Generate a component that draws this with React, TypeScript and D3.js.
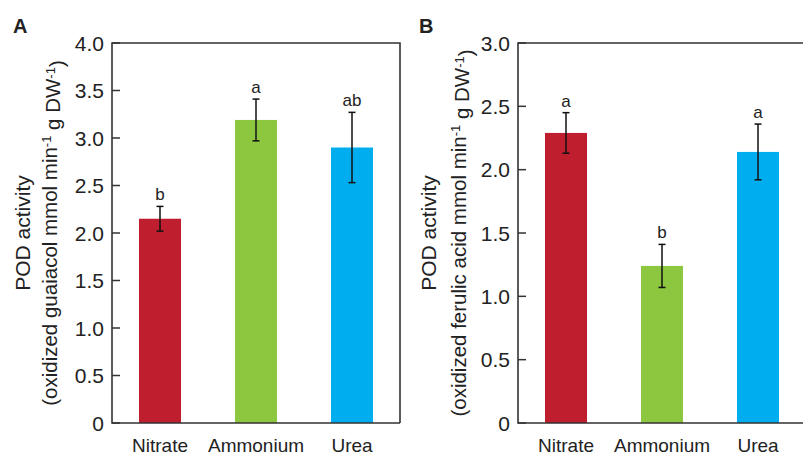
import React from 'react';
import { scaleBand, scaleLinear } from 'd3';

const width = 803;
const height = 456;

const treatments = ['Nitrate', 'Ammonium', 'Urea'];
const colors = ['#BE1E2D', '#8DC63F', '#00AEEF'];

// panel A: guaiacol
const guaiacolMean = [2.15, 3.19, 2.9];
const guaiacolErr = [0.13, 0.22, 0.37];
const guaiacolLetters = ['b', 'a', 'ab'];
const guaiacolTicks = [0, 0.5, 1.0, 1.5, 2.0, 2.5, 3.0, 3.5, 4.0];

// panel B: ferulic acid
const ferulicMean = [2.29, 1.24, 2.14];
const ferulicErr = [0.16, 0.17, 0.22];
const ferulicLetters = ['a', 'b', 'a'];
const ferulicTicks = [0, 0.5, 1.0, 1.5, 2.0, 2.5, 3.0];

const font = 'Liberation Sans, Arial, sans-serif';
const textColor = '#222';

const fmt = (v: number) => (v === 0 ? '0' : v.toFixed(1));

type PanelProps = {
  label: string;
  left: number;
  right: number;
  boxRight: number;
  yMax: number;
  means: number[];
  errs: number[];
  letters: string[];
  ticks: number[];
  title2: string;
  titleX1: number;
  titleX2: number;
};

const Panel = ({ label, left, right, boxRight, yMax, means, errs, letters, ticks, title2, titleX1, titleX2 }: PanelProps) => {
  const top = 43;
  const bottom = 423;
  const x = scaleBand().domain(treatments).range([left, right]).paddingInner(0.5625).paddingOuter(0.28125);
  const y = scaleLinear().domain([0, yMax]).range([bottom, top]);
  const midY = (top + bottom) / 2;

  return (
    <g>
      <text x={left - 99} y={33} fontFamily={font} fontWeight="bold" fontSize={20} fill={textColor}>
        {label}
      </text>

      {treatments.map((t, i) => (
        <rect key={t} x={x(t)} y={y(means[i])} width={x.bandwidth()} height={bottom - y(means[i])} fill={colors[i]} />
      ))}

      {treatments.map((t, i) => {
        const cx = (x(t) as number) + x.bandwidth() / 2;
        const y1 = y(means[i] + errs[i]);
        const y0 = y(means[i] - errs[i]);
        return (
          <g key={t} stroke="#111" strokeWidth={1.5}>
            <line x1={cx} x2={cx} y1={y1} y2={y0} />
            <line x1={cx - 3.5} x2={cx + 3.5} y1={y1} y2={y1} />
            <line x1={cx - 3.5} x2={cx + 3.5} y1={y0} y2={y0} />
          </g>
        );
      })}

      {treatments.map((t, i) => (
        <text
          key={t}
          x={(x(t) as number) + x.bandwidth() / 2}
          y={y(means[i] + errs[i]) - 6}
          textAnchor="middle"
          fontFamily={font}
          fontSize={17}
          fill={textColor}
        >
          {letters[i]}
        </text>
      ))}

      <path
        d={`M${boxRight},${bottom}H${left}V${top}H${boxRight}` + (boxRight < width ? `V${bottom}` : '')}
        fill="none"
        stroke="#333"
        strokeWidth={1.6}
      />

      {ticks.map(v => (
        <g key={v}>
          <line x1={left} x2={left + 8} y1={y(v)} y2={y(v)} stroke="#333" strokeWidth={1.5} />
          <text x={left - 8} y={y(v)} dy="0.36em" textAnchor="end" fontFamily={font} fontSize={21} fill={textColor}>
            {fmt(v)}
          </text>
        </g>
      ))}

      {treatments.map(t => (
        <text
          key={t}
          x={(x(t) as number) + x.bandwidth() / 2}
          y={452}
          textAnchor="middle"
          fontFamily={font}
          fontSize={19}
          fill={textColor}
        >
          {t}
        </text>
      ))}

      <text transform={`translate(${titleX1},${midY}) rotate(-90)`} textAnchor="middle" fontFamily={font} fontSize={21} fill={textColor}>
        POD activity
      </text>
      <text transform={`translate(${titleX2},${midY}) rotate(-90)`} textAnchor="middle" fontFamily={font} fontSize={20.5} fill={textColor}>
        {title2}
        <tspan dy="-0.45em" fontSize={13}>-1</tspan>
        <tspan dy="0.45em"> g DW</tspan>
        <tspan dy="-0.45em" fontSize={13}>-1</tspan>
        <tspan dy="0.45em">)</tspan>
      </text>
    </g>
  );
};

const App = () => (
  <svg width={width} height={height} style={{ position: 'absolute', left: 0, top: 0, background: '#fff' }}>
    <Panel
      label="A"
      left={112}
      right={400}
      boxRight={400}
      yMax={4}
      means={guaiacolMean}
      errs={guaiacolErr}
      letters={guaiacolLetters}
      ticks={guaiacolTicks}
      title2="(oxidized guaiacol mmol min"
      titleX1={30}
      titleX2={57}
    />
    <Panel
      label="B"
      left={518}
      right={806}
      boxRight={810}
      yMax={3}
      means={ferulicMean}
      errs={ferulicErr}
      letters={ferulicLetters}
      ticks={ferulicTicks}
      title2="(oxidized ferulic acid mmol min"
      titleX1={436}
      titleX2={466}
    />
  </svg>
);

export default App;
